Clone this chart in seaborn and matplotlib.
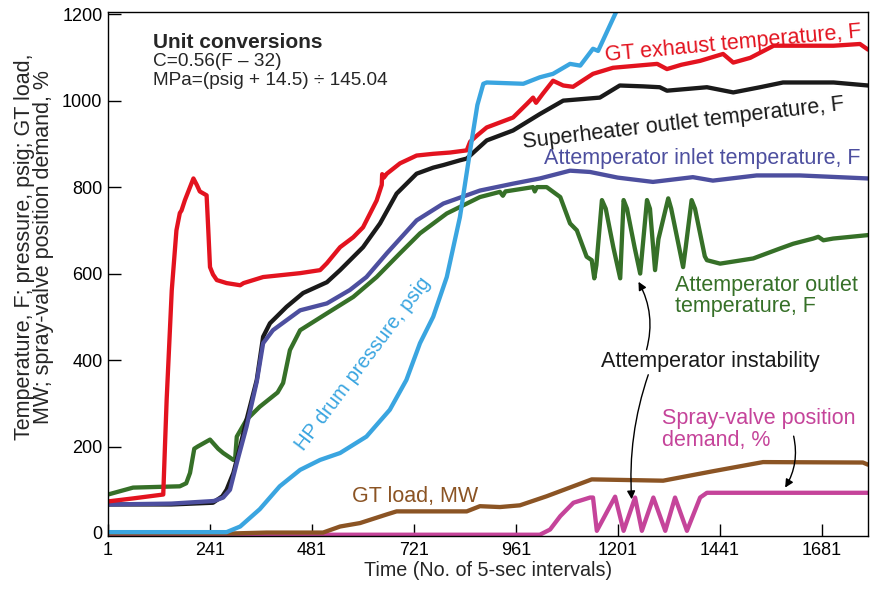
import numpy as np
import pandas as pd
import seaborn as sns
import matplotlib
matplotlib.use("Agg")
import matplotlib.pyplot as plt

# time axis ticks (No. of 5-sec intervals)
x_ticks = [1, 241, 481, 721, 961, 1201, 1441, 1681]
y_ticks = [0, 200, 400, 600, 800, 1000, 1200]

# GT exhaust temperature, F
gt_exhaust_x = [1, 60, 131, 135, 139, 151, 162, 170, 174, 182, 190, 202, 210, 217, 233, 237,
                241, 248, 257, 280, 312, 320, 366, 453, 500, 516, 547, 578, 601, 633, 645,
                646, 650, 657, 688, 727, 766, 806, 845, 853, 870, 892, 954, 986, 1001, 1008,
                1024, 1048, 1072, 1095, 1142, 1189, 1293, 1316, 1350, 1394, 1448, 1472,
                1512, 1567, 1708, 1770, 1789]
gt_exhaust_y = [73, 80, 89, 200, 308, 561, 700, 740, 746, 770, 790, 820, 805, 790, 781, 700,
                615, 598, 585, 578, 573, 578, 592, 601, 608, 624, 661, 684, 707, 769, 805,
                830, 822, 831, 855, 873, 877, 880, 885, 905, 920, 938, 961, 992, 1007, 995,
                1016, 1046, 1035, 1032, 1062, 1076, 1085, 1073, 1083, 1092, 1108, 1088,
                1099, 1127, 1127, 1131, 1118]

# Superheater outlet temperature, F
sh_outlet_x = [1, 150, 248, 270, 280, 296, 312, 327, 351, 366, 382, 421, 460, 516, 547, 601,
               641, 680, 727, 766, 790, 829, 845, 892, 954, 1017, 1072, 1158, 1205, 1260,
               1299, 1316, 1410, 1472, 1535, 1589, 1708, 1789]
sh_outlet_y = [66, 66, 70, 85, 100, 139, 200, 262, 354, 454, 485, 523, 555, 580, 608, 661,
               716, 785, 831, 845, 851, 862, 866, 908, 931, 969, 1000, 1007, 1035, 1033,
               1031, 1023, 1031, 1019, 1031, 1042, 1042, 1035]

# Attemperator inlet temperature, F
att_inlet_x = [1, 150, 250, 272, 288, 304, 327, 351, 366, 389, 453, 516, 570, 609, 657, 727,
               790, 876, 954, 1017, 1088, 1135, 1200, 1283, 1377, 1424, 1527, 1628, 1789]
att_inlet_y = [66, 68, 74, 82, 100, 162, 246, 350, 439, 469, 515, 531, 562, 592, 647, 723,
               762, 792, 808, 820, 838, 835, 822, 812, 823, 815, 827, 827, 820]

# Attemperator outlet temperature, F
att_outlet_x = [1, 60, 170, 185, 194, 204, 212, 241, 260, 272, 296, 300, 304, 327, 358, 400,
                413, 429, 453, 516, 578, 633, 688, 735, 798, 876, 923, 930, 936, 1001, 1005,
                1010, 1033, 1065, 1088, 1104, 1127, 1139, 1145, 1150, 1163, 1172, 1190,
                1206, 1214, 1222, 1240, 1253, 1269, 1276, 1288, 1296, 1319, 1326, 1354,
                1360, 1374, 1382, 1405, 1410, 1441, 1519, 1582, 1613, 1660, 1672, 1684,
                1707, 1789]
att_outlet_y = [89, 105, 108, 115, 139, 195, 200, 216, 195, 185, 169, 170, 223, 262, 292, 325,
                347, 423, 469, 508, 546, 592, 647, 693, 739, 777, 789, 780, 790, 800, 790,
                800, 800, 777, 716, 700, 639, 631, 589, 620, 770, 750, 660,
                589, 770, 750, 660, 600, 770, 750, 608, 680, 774, 750, 615,
                660, 770, 750, 640, 631, 623, 635, 658, 669, 681, 685, 677,
                681, 689]

# HP drum pressure, psig
hp_drum_x = [1, 280, 312, 358, 405, 453, 500, 547, 609, 664, 703, 735, 766, 798, 829, 853,
             870, 884, 892, 978, 1017, 1048, 1088, 1112, 1142, 1154, 1194, 1205]
hp_drum_y = [2, 2, 15, 55, 108, 146, 169, 185, 223, 285, 354, 439, 500, 592, 731, 885,
             990, 1039, 1042, 1039, 1054, 1062, 1085, 1081, 1120, 1115, 1200, 1222]

# GT load, MW
gt_load_x = [1, 296, 374, 507, 547, 594, 657, 680, 845, 876, 923, 970, 1033, 1139, 1307,
             1425, 1542, 1777, 1789]
gt_load_y = [-1, -1, 1, 1, 15, 23, 43, 50, 50, 62, 60, 64, 85, 124, 121, 143, 164, 163, 158]

# Spray-valve position demand, %
spray_x = [1, 1017, 1041, 1065, 1096, 1135, 1142, 1151, 1194, 1214, 1241, 1257, 1284, 1312,
           1335, 1363, 1394, 1410, 1789]
spray_y = [-4, -4, 8, 39, 70, 82, 82, 5, 84, 5, 82, 5, 82, 5, 82, 5, 82, 93, 93]

RED = "#e3131f"
BLACK = "#1a1a1a"
PURPLE = "#4d4f9f"
GREEN = "#367028"
LBLUE = "#3aa5e0"
BROWN = "#8b5424"
PINK = "#c5449a"

sns.set_style("ticks")
plt.rcParams["font.family"] = ["Liberation Sans", "DejaVu Sans"]

fig = plt.figure(figsize=(8.73, 5.94), dpi=100)
ax = fig.add_axes([0.1237, 0.0976, 0.8706, 0.8822])

lw = 3.1
series = [
    (spray_x, spray_y, PINK),
    (gt_load_x, gt_load_y, BROWN),
    (att_outlet_x, att_outlet_y, GREEN),
    (sh_outlet_x, sh_outlet_y, BLACK),
    (att_inlet_x, att_inlet_y, PURPLE),
    (gt_exhaust_x, gt_exhaust_y, RED),
    (hp_drum_x, hp_drum_y, LBLUE),
]
for xs, ys, col in series:
    df = pd.DataFrame({"t": xs, "v": ys})
    sns.lineplot(data=df, x="t", y="v", ax=ax, color=col, linewidth=lw,
                 estimator=None, sort=False)

ax.set_xlim(1, 1789)
ax.set_ylim(-7, 1205)
ax.set_xticks(x_ticks)
ax.set_yticks(y_ticks)
ax.tick_params(axis="both", direction="in", length=9, width=1, labelsize=13,
               color="black", labelcolor="black", pad=4)
for sp in ax.spines.values():
    sp.set_color("black")
    sp.set_linewidth(1)

ax.set_xlabel("Time (No. of 5-sec intervals)", fontsize=14.2, labelpad=2)
ax.set_ylabel("Temperature, F; pressure, psig; GT load,\nMW; spray-valve position demand, %",
              fontsize=15.5, linespacing=0.9)
ax.yaxis.set_label_coords(-0.071, 0.552)

# unit conversions box
ax.text(107, 1134, "Unit conversions", fontsize=15, fontweight="bold",
        ha="left", va="center")
ax.text(107, 1090, "C=0.56(F \u2013 32)", fontsize=13.7, ha="left", va="center")
ax.text(107, 1046, "MPa=(psig + 14.5) \u00f7 145.04", fontsize=13.7, ha="left", va="center")

# series labels
fs = 15.5
ax.text(1472, 1132, "GT exhaust temperature, F", color=RED, fontsize=fs,
        rotation=5.3, ha="center", va="center", rotation_mode="anchor")
ax.text(1354, 947, "Superheater outlet temperature, F", color=BLACK, fontsize=fs,
        rotation=6.8, ha="center", va="center", rotation_mode="anchor")
ax.text(1399, 866, "Attemperator inlet temperature, F", color=PURPLE, fontsize=fs,
        ha="center", va="center")
ax.text(1335, 548, "Attemperator outlet\ntemperature, F", color=GREEN, fontsize=fs,
        ha="left", va="center", linespacing=1.05)
ax.text(1419, 396, "Attemperator instability", color=BLACK, fontsize=fs,
        ha="center", va="center")
ax.text(1305, 239, "Spray-valve position\ndemand, %", color=PINK, fontsize=fs,
        ha="left", va="center", linespacing=1.05)
ax.text(574, 84, "GT load, MW", color=BROWN, fontsize=fs, ha="left", va="center")
ax.text(600, 392, "HP drum pressure, psig", color=LBLUE, fontsize=14.5,
        rotation=53, ha="center", va="center", rotation_mode="anchor")

# arrows
arrow_kw = dict(arrowstyle="-|>", color="black", lw=1, mutation_scale=12,
                shrinkA=0, shrinkB=0)
ax.annotate("", xy=(1249, 581), xytext=(1268, 424),
            arrowprops=dict(connectionstyle="arc3,rad=0.2", **arrow_kw))
ax.annotate("", xy=(1233, 78), xytext=(1272, 366),
            arrowprops=dict(connectionstyle="arc3,rad=0.1", **arrow_kw))
ax.annotate("", xy=(1594, 105), xytext=(1614, 224),
            arrowprops=dict(connectionstyle="arc3,rad=-0.2", **arrow_kw))

fig.savefig("out.png", dpi=100)
